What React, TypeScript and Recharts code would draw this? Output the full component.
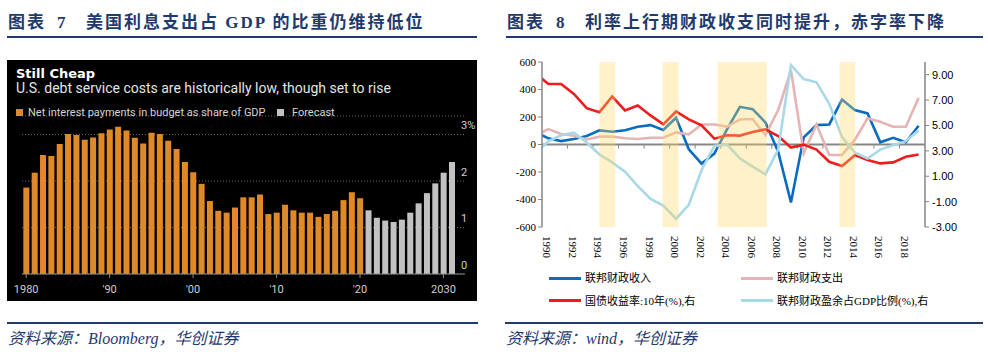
import React from "react";
import {
  BarChart,
  Bar,
  Cell,
  XAxis,
  YAxis,
  CartesianGrid,
  LineChart,
  Line,
  ReferenceArea,
  ReferenceLine,
} from "recharts";

// 图表7：美国净利息支出占GDP比重（%），1980-2020 实际，2021-2031 预测
const interestYears = [
  1980, 1981, 1982, 1983, 1984, 1985, 1986, 1987, 1988, 1989,
  1990, 1991, 1992, 1993, 1994, 1995, 1996, 1997, 1998, 1999,
  2000, 2001, 2002, 2003, 2004, 2005, 2006, 2007, 2008, 2009,
  2010, 2011, 2012, 2013, 2014, 2015, 2016, 2017, 2018, 2019,
  2020, 2021, 2022, 2023, 2024, 2025, 2026, 2027, 2028, 2029,
  2030, 2031,
];
const interestActual = [
  1.86, 2.18, 2.56, 2.54, 2.8, 3.01, 2.99, 2.89, 2.94, 3.03,
  3.11, 3.17, 3.09, 2.93, 2.81, 3.04, 3.01, 2.87, 2.69, 2.41,
  2.19, 1.94, 1.57, 1.36, 1.32, 1.43, 1.65, 1.65, 1.71, 1.29,
  1.32, 1.49, 1.37, 1.32, 1.32, 1.23, 1.29, 1.36, 1.59, 1.76,
  1.63,
];
const interestForecast = [1.37, 1.21, 1.15, 1.12, 1.17, 1.32, 1.52, 1.74, 1.95, 2.18, 2.41];
const interestTicks = [1980, 1990, 2000, 2010, 2020, 2030];
const interestTickLabels = ["1980", "'90", "'00", "'10", "'20", "2030"];
const shareTicks = [0, 1, 2, 3];

// 图表8：联邦财政收支变动（十亿美元，左轴），10年国债收益率与赤字率（%，右轴）
// 1989 在图左边缘之外，只露出一小段
const fiscalYears = [
  1989, 1990, 1991, 1992, 1993, 1994, 1995, 1996, 1997, 1998,
  1999, 2000, 2001, 2002, 2003, 2004, 2005, 2006, 2007, 2008,
  2009, 2010, 2011, 2012, 2013, 2014, 2015, 2016, 2017, 2018,
  2019,
];
const revenueChange = [
  90, 45, 25, 40, 62, 103, 93, 103, 129, 141,
  105, 194, -35, -139, -66, 112, 274, 257, 161, -52,
  -421, 52, 141, 146, 327, 250, 226, 16, 49, 16,
  136,
];
const spendingChange = [
  65, 112, 76, 64, 37, 57, 57, 45, 40, 49,
  49, 88, 74, 145, 145, 130, 182, 185, 69, 250,
  540, -64, 146, -76, -76, 33, 190, 165, 129, 129,
  339,
];
const yield10y = [
  9.1, 8.27, 8.27, 7.49, 6.36, 6.05, 7.28, 6.18, 6.57, 5.79,
  5.09, 6.1, 5.48, 5.01, 3.96, 4.23, 4.2, 4.49, 4.7, 4.17,
  3.26, 3.49, 3.1, 2.14, 1.8, 2.66, 2.27, 2.01, 2.09, 2.53,
  2.71,
];
const deficitToGdp = [
  2.8, 3.76, 4.23, 4.43, 3.65, 2.71, 2.09, 1.36, 0.23, -0.78,
  -1.31, -2.35, -1.25, 1.49, 3.39, 3.49, 2.4, 1.75, 1.15, 3.1,
  9.76, 8.66, 8.4, 6.7, 4.09, 2.87, 2.4, 3.1, 3.44, 3.76,
  4.62,
];
// 阴影区间（年份）
const shadeBands = [
  [1994.0, 1995.25],
  [1998.95, 2000.2],
  [2003.25, 2007.1],
  [2012.8, 2014.05],
];
const fiscalLabelYears = [1990, 1992, 1994, 1996, 1998, 2000, 2002, 2004, 2006, 2008, 2010, 2012, 2014, 2016, 2018];
const leftTicks = [-600, -400, -200, 0, 200, 400, 600];
const rightTicks = [-3, -1, 1, 3, 5, 7, 9];

const NAVY = "#1f3a6e";
const BAR_ORANGE = "#e08a27";
const BAR_GRAY = "#c2c2c2";
const BLUE = "#0a6cc0";
const PINK = "#e6b4b4";
const RED = "#ee1c1c";
const CYAN = "#a9d8e6";
const AXIS_GRAY = "#868686";

const interestRows = interestYears.map((year, i) => ({
  year,
  share: i < interestActual.length ? interestActual[i] : interestForecast[i - interestActual.length],
  forecast: i >= interestActual.length,
}));

const fiscalRows = fiscalYears.map((year, i) => ({
  year,
  revenue: revenueChange[i],
  spending: spendingChange[i],
  yield10: yield10y[i],
  deficit: deficitToGdp[i],
}));

const fiscalLegend = [
  { name: "联邦财政收入", color: BLUE },
  { name: "联邦财政支出", color: PINK },
  { name: "国债收益率:10年(%),右", color: RED },
  { name: "联邦财政盈余占GDP比例(%),右", color: CYAN },
];

const headerFont = '"Liberation Serif", "Noto Sans CJK SC", serif';

function ShareTick(props: any) {
  const { x, y, payload } = props;
  return (
    <text x={x - 4} y={y - 9} fill="#cfcfcf" fontSize={11} fontFamily="Roboto" dominantBaseline="central">
      {payload.value === 3 ? "3%" : payload.value}
    </text>
  );
}

function YearTick(props: any) {
  const { x, y, payload } = props;
  return (
    <text
      transform={`translate(${x - 1},${y + 9}) rotate(90)`}
      fill="#000"
      fontSize={11}
      fontFamily='"Liberation Serif", serif'
      dominantBaseline="central"
    >
      {payload.value}
    </text>
  );
}

function Header({ left, width, num, text }: { left: number; width: number; num: string; text: string }) {
  const base: React.CSSProperties = {
    position: "absolute",
    top: 13,
    lineHeight: "20px",
    fontFamily: headerFont,
    fontWeight: 700,
    fontSize: 17,
    color: NAVY,
    letterSpacing: 2,
    whiteSpace: "nowrap",
  };
  return (
    <>
      <div style={{ ...base, left: left + 1 }}>图表</div>
      <div style={{ ...base, left: left + 50 }}>{num}</div>
      <div style={{ ...base, left: left + 79 }}>{text}</div>
      <div style={{ position: "absolute", left, top: 36, width, height: 2, background: NAVY }} />
    </>
  );
}

function Footer({ left, width, text }: { left: number; width: number; text: string }) {
  return (
    <>
      <div style={{ position: "absolute", left, top: 322, width, height: 2, background: NAVY }} />
      <div
        style={{
          position: "absolute",
          left: left + 1,
          top: 329,
          lineHeight: "20px",
          fontFamily: headerFont,
          fontStyle: "italic",
          fontSize: 16,
          color: NAVY,
          whiteSpace: "nowrap",
        }}
      >
        {text}
      </div>
    </>
  );
}

function InterestPanel() {
  return (
    <div style={{ position: "absolute", left: 7, top: 60, width: 470, height: 241, background: "#000", overflow: "hidden" }}>
      <BarChart
        width={470}
        height={241}
        data={interestRows}
        margin={{ top: 56, right: 0, bottom: 0, left: 15 }}
        barCategoryGap="16%"
      >
        <CartesianGrid vertical={false} stroke="#6a6a6a" strokeDasharray="1 2" />
        <XAxis
          dataKey="year"
          ticks={interestTicks}
          tickFormatter={(v: number) => interestTickLabels[interestTicks.indexOf(v)] ?? ""}
          interval={0}
          height={27}
          padding={{ left: 0, right: 9 }}
          axisLine={{ stroke: "#8a8a8a" }}
          tickLine={{ stroke: "#8a8a8a" }}
          tickSize={4}
          tickMargin={7}
          tick={{ fill: "#cfcfcf", fontSize: 11, fontFamily: "Roboto" }}
        />
        <YAxis
          orientation="right"
          domain={[0, 3.4]}
          ticks={shareTicks}
          width={12}
          axisLine={false}
          tickLine={false}
          tickSize={0}
          tickMargin={0}
          tick={<ShareTick />}
        />
        <Bar dataKey="share" isAnimationActive={false}>
          {interestRows.map((r) => (
            <Cell key={r.year} fill={r.forecast ? BAR_GRAY : BAR_ORANGE} />
          ))}
        </Bar>
      </BarChart>
      <div style={{ position: "absolute", left: 9, top: 6, lineHeight: "15px", font: 'bold 13px "DejaVu Sans"', color: "#fff" }}>
        Still Cheap
      </div>
      <div style={{ position: "absolute", left: 9, top: 20, lineHeight: "16px", fontSize: 14, fontFamily: "Roboto", color: "#e4e4e4", whiteSpace: "nowrap" }}>
        U.S. debt service costs are historically low, though set to rise
      </div>
      <div style={{ position: "absolute", left: 9, top: 49, width: 7, height: 7, background: BAR_ORANGE }} />
      <div style={{ position: "absolute", left: 21, top: 46, lineHeight: "13px", fontSize: 11, fontFamily: "Roboto", color: "#d4d4d4", whiteSpace: "nowrap" }}>
        Net interest payments in budget as share of GDP
      </div>
      <div style={{ position: "absolute", left: 270, top: 49, width: 7, height: 7, background: BAR_GRAY }} />
      <div style={{ position: "absolute", left: 285, top: 46, lineHeight: "13px", fontSize: 11, fontFamily: "Roboto", color: "#d4d4d4" }}>
        Forecast
      </div>
    </div>
  );
}

function FiscalPanel() {
  const tickMarks = fiscalLabelYears.slice(1).map((y) => y - 0.5);
  return (
    <>
      <div style={{ position: "absolute", left: 502, top: 50 }}>
        <LineChart width={486} height={215} data={fiscalRows} margin={{ top: 12, right: 13, bottom: 0, left: 0 }}>
          <XAxis
            dataKey="year"
            type="number"
            domain={[1989.5, 2019.5]}
            allowDataOverflow
            ticks={fiscalLabelYears}
            interval={0}
            height={38}
            axisLine={false}
            tickLine={false}
            tickSize={0}
            tickMargin={0}
            tick={<YearTick />}
          />
          <YAxis
            yAxisId="left"
            domain={[-600, 600]}
            ticks={leftTicks}
            width={40}
            axisLine={{ stroke: AXIS_GRAY, strokeWidth: 1.5 }}
            tickLine={{ stroke: AXIS_GRAY }}
            tickSize={4}
            tickMargin={2}
            tick={{ fill: "#000", fontSize: 11, fontFamily: '"Liberation Serif", serif' }}
          />
          <YAxis
            yAxisId="right"
            orientation="right"
            domain={[-3, 10]}
            ticks={rightTicks}
            width={50}
            axisLine={{ stroke: AXIS_GRAY, strokeWidth: 1.5 }}
            tickLine={{ stroke: AXIS_GRAY }}
            tickSize={4}
            tickMargin={3}
            tickFormatter={(v: number) => v.toFixed(2)}
            tick={{ fill: "#000", fontSize: 11, fontFamily: '"Liberation Sans", sans-serif', textAnchor: "start" }}
          />
          <ReferenceLine yAxisId="left" y={0} stroke={AXIS_GRAY} strokeWidth={2} zIndex={350} />
          {tickMarks.map((t) => (
            <ReferenceLine
              key={t}
              yAxisId="left"
              segment={[
                { x: t, y: 0 },
                { x: t, y: -30 },
              ]}
              stroke={AXIS_GRAY}
              zIndex={350}
            />
          ))}
          <Line yAxisId="left" dataKey="revenue" stroke={BLUE} strokeWidth={2.6} dot={false} isAnimationActive={false} />
          <Line yAxisId="left" dataKey="spending" stroke={PINK} strokeWidth={2.6} dot={false} isAnimationActive={false} />
          <Line yAxisId="right" dataKey="yield10" stroke={RED} strokeWidth={2.6} dot={false} isAnimationActive={false} />
          <Line yAxisId="right" dataKey="deficit" stroke={CYAN} strokeWidth={2.6} dot={false} isAnimationActive={false} />
          {shadeBands.map(([a, b]) => (
            <ReferenceArea
              key={a}
              yAxisId="left"
              x1={a}
              x2={b}
              fill="#ffd966"
              fillOpacity={0.35}
              stroke="none"
              zIndex={450}
            />
          ))}
        </LineChart>
      </div>
      {fiscalLegend.map((item, i) => {
        const col = i % 2;
        const row = Math.floor(i / 2);
        const lx = col === 0 ? 549 : 741;
        const cy = row === 0 ? 278 : 300.5;
        return (
          <React.Fragment key={item.name}>
            <div style={{ position: "absolute", left: lx, top: cy - 1.5, width: 32, height: 3, background: item.color }} />
            <div
              style={{
                position: "absolute",
                left: lx + 36,
                top: cy - 8,
                lineHeight: "16px",
                fontSize: 11,
                fontFamily: '"Liberation Serif", "Noto Sans CJK SC", serif',
                color: "#000",
                whiteSpace: "nowrap",
              }}
            >
              {item.name}
            </div>
          </React.Fragment>
        );
      })}
    </>
  );
}

export default function App() {
  return (
    <div style={{ position: "absolute", left: 0, top: 0, width: 988, height: 355, background: "#fff", overflow: "hidden" }}>
      <Header left={7} width={470} num="7" text="美国利息支出占 GDP 的比重仍维持低位" />
      <Header left={506} width={477} num="8" text="利率上行期财政收支同时提升，赤字率下降" />
      <InterestPanel />
      <FiscalPanel />
      <Footer left={7} width={471} text="资料来源：Bloomberg，华创证券" />
      <Footer left={505} width={478} text="资料来源：wind，华创证券" />
    </div>
  );
}
